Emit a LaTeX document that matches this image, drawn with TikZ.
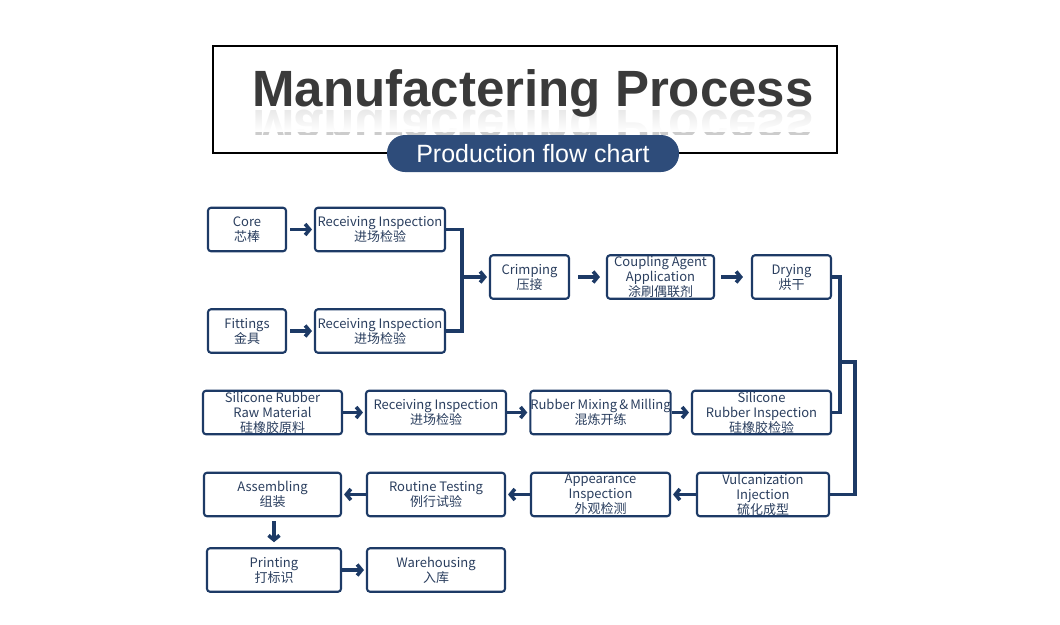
\documentclass[tikz,border=0pt]{standalone}
\usepackage{fontspec}
\setmainfont{Noto Sans CJK SC}
\newfontfamily\titlefont{Liberation Sans}
\usetikzlibrary{arrows.meta,fadings}
\definecolor{navy}{RGB}{29,58,102}
\definecolor{txt}{RGB}{42,62,94}
\definecolor{pillblue}{RGB}{46,76,122}
\definecolor{titlegray}{RGB}{58,58,58}
\tikzfading[name=reflfade, top color=transparent!45, bottom color=transparent!0]
\tikzset{
  box/.style={draw=navy, line width=2.1pt, rounded corners=3pt, text=txt, align=center,
    inner sep=0pt, font=\fontsize{13}{15}\selectfont, minimum height=43.5pt},
  conn/.style={draw=navy, line width=3.6pt},
  arr/.style={draw=navy, line width=3.6pt, -{Straight Barb[length=4.5pt,width=11pt]}},
}
\begin{document}
\begin{tikzpicture}[x=1pt,y=-1pt]
\useasboundingbox (0,0) rectangle (1060,624);
% title
\node[draw=black, line width=2.5pt, minimum width=624pt, minimum height=107pt, inner sep=0pt] (tbox) at (525,99.5) {};
\begin{scope}
  \clip (220,108.5) rectangle (830,134);
  \node[anchor=base, yscale=-1, text=gray!40, font=\titlefont\bfseries\fontsize{51}{51}\selectfont] (ttlr) at (533,110) {Manufactering Process};
  \fill[white, path fading=reflfade] (220,108.5) rectangle (830,132);
\end{scope}
\node[anchor=base, text=titlegray, font=\titlefont\bfseries\fontsize{51}{51}\selectfont] (ttl) at (533,106) {Manufactering Process};
\node[fill=pillblue, rounded corners=18pt, minimum width=292pt, minimum height=37pt, inner sep=0pt,
  text=white, font=\titlefont\fontsize{25}{25}\selectfont] (sub) at (533,153.5) {Production flow chart};
% row 1
\node[box, minimum width=78pt] (core) at (247,229.5) {Core\\芯棒};
\node[box, minimum width=130pt] (ri1) at (380,229.5) {Receiving Inspection\\进场检验};
\node[box, minimum width=78pt] (fit) at (247,331) {Fittings\\金具};
\node[box, minimum width=130pt] (ri2) at (380,331) {Receiving Inspection\\进场检验};
% row 2
\node[box, minimum width=79pt] (crimp) at (529.5,277) {Crimping\\压接};
\node[box, minimum width=107pt] (coup) at (660.5,277) {Coupling Agent\\Application\\涂刷偶联剂};
\node[box, minimum width=79pt] (dry) at (791.5,277) {Drying\\烘干};
% row 3
\node[box, minimum width=139pt] (sr) at (272.5,412.5) {Silicone Rubber\\Raw Material\\硅橡胶原料};
\node[box, minimum width=140pt] (ri3) at (436,412.5) {Receiving Inspection\\进场检验};
\node[box, minimum width=139pt] (rm) at (600.5,412.5) {Rubber Mixing\,\&\,Milling\\混炼开练};
\node[box, minimum width=139pt] (sri) at (761.5,412.5) {Silicone\\Rubber Inspection\\硅橡胶检验};
% row 4
\node[box, minimum width=137pt] (asm) at (272.5,494.5) {Assembling\\组装};
\node[box, minimum width=138pt] (rt) at (436,494.5) {Routine Testing\\例行试验};
\node[box, minimum width=139pt] (ai) at (600.5,494.5) {Appearance\\Inspection\\外观检测};
\node[box, minimum width=132pt] (vi) at (763,494.5) {Vulcanization\\Injection\\硫化成型};
% row 5
\node[box, minimum width=134pt] (print) at (274,570) {Printing\\打标识};
\node[box, minimum width=138pt] (wh) at (436,570) {Warehousing\\入库};
% connectors
\coordinate (j1) at (462,277);
\coordinate (j2) at (840,362);
\coordinate (j3) at (855,362);
\draw[arr, shorten <=3pt, shorten >=2pt] (core) -- (ri1);
\draw[arr, shorten <=3pt, shorten >=2pt] (fit) -- (ri2);
\draw[conn] (ri1.east) -| (j1);
\draw[conn] (ri2.east) -| (j1);
\draw[arr, shorten >=2pt] (j1) -- (crimp.west);
\draw[arr, shorten <=8pt, shorten >=6pt] (crimp) -- (coup);
\draw[arr, shorten <=6pt, shorten >=8pt] (coup) -- (dry);
\draw[conn] (dry.east) -| (j2) |- (sri.east);
\draw[conn] (j2) -- (j3) |- (vi.east);
\draw[arr, shorten >=2pt] (sr) -- (ri3);
\draw[arr, shorten >=2pt] (ri3) -- (rm);
\draw[arr, shorten >=2pt] (rm) -- (sri);
\draw[arr, shorten >=2pt] (vi) -- (ai);
\draw[arr, shorten >=2pt] (ai) -- (rt);
\draw[arr, shorten >=2pt] (rt) -- (asm);
\draw[arr, shorten <=4pt, shorten >=5pt] (asm.south -| print) -- (print);
\draw[arr, shorten >=2pt] (print) -- (wh);
\end{tikzpicture}
\end{document}
